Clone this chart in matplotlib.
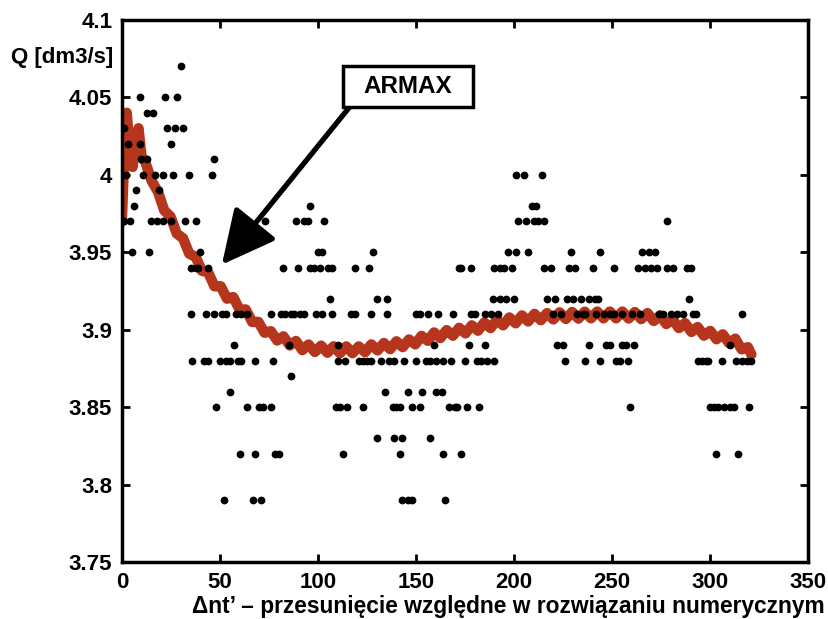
import matplotlib

matplotlib.use("Agg")
import matplotlib.pyplot as plt
from matplotlib.patches import Rectangle

plt.rcParams["font.family"] = ["Liberation Sans", "DejaVu Sans"]
plt.rcParams["font.weight"] = "bold"

# measured flow, one list of shifts for each quantised level
levels = [4.07, 4.05, 4.04, 4.03, 4.02, 4.01, 4.00, 3.99, 3.98, 3.97, 3.95, 3.94,
          3.92, 3.91, 3.89, 3.88, 3.87, 3.86, 3.85, 3.83, 3.82, 3.79]
shifts_at_level = [
    [30],
    [9, 22, 28],
    [13, 16],
    [1, 23, 27, 31],
    [3, 9, 25],
    [10, 13, 47],
    [2, 11, 17, 21, 26, 34, 46, 201, 205, 214],
    [7, 19],
    [6, 96, 209, 211],
    [1, 4, 15, 18, 21, 25, 32, 38, 73, 89, 93, 95, 103, 202, 206, 210, 212, 215, 278],
    [5, 14, 40, 100, 102, 128, 197, 201, 207, 229, 244, 265, 269, 272],
    [35, 38, 39, 44, 82, 90, 96, 98, 101, 105, 107, 119, 126, 172, 173, 178, 190,
     193, 195, 199, 215, 219, 228, 231, 240, 251, 263, 267, 270, 273, 278, 281, 288, 290],
    [106, 130, 135, 189, 193, 196, 200, 217, 221, 227, 230, 234, 238, 241, 243, 289],
    [35, 43, 47, 51, 53, 58, 61, 64, 76, 81, 83, 86, 88, 91, 93, 99, 102, 107, 117,
     119, 127, 135, 150, 152, 156, 161, 169, 178, 180, 185, 188, 192, 220, 224, 232,
     235, 236, 242, 246, 249, 251, 255, 260, 264, 274, 276, 280, 283, 286, 291, 293, 316],
    [57, 85, 110, 159, 177, 185, 222, 225, 238, 247, 249, 255, 257, 261, 310],
    [36, 42, 44, 50, 53, 55, 59, 61, 68, 77, 110, 114, 121, 123, 125, 127, 132, 136,
     139, 144, 150, 155, 157, 160, 164, 168, 175, 181, 183, 186, 190, 226, 236, 244,
     252, 254, 258, 294, 296, 298, 299, 306, 313, 316, 319, 321],
    [86],
    [55, 134, 146, 153, 160, 163],
    [48, 64, 70, 72, 76, 109, 111, 115, 123, 138, 140, 142, 148, 152, 167, 170, 171,
     176, 182, 259, 300, 302, 304, 307, 310, 312, 320],
    [130, 139, 143, 157],
    [60, 68, 78, 80, 113, 142, 164, 173, 303, 314],
    [52, 67, 71, 143, 146, 148, 165],
]

# ARMAX model output
armax_x = [0, 1, 2.5, 4, 5.5, 7, 8.5, 10, 12.0, 15.2, 18.4, 21.6, 24.8, 28.0, 31.2,
           34.4, 37.6, 40.8, 44.0, 47.2, 50.4, 53.6, 56.8, 60.0, 63.2, 66.4, 69.6,
           72.8, 76.0, 79.2, 82.4, 85.6, 88.8, 92.0, 95.2, 98.4, 101.6, 104.8, 108.0,
           111.2, 114.4, 117.6, 120.8, 124.0, 127.2, 130.4, 133.6, 136.8, 140.0, 143.2,
           146.4, 149.6, 152.8, 156.0, 159.2, 162.4, 165.6, 168.8, 172.0, 175.2, 178.4,
           181.6, 184.8, 188.0, 191.2, 194.4, 197.6, 200.8, 204.0, 207.2, 210.4, 213.6,
           216.8, 220.0, 223.2, 226.4, 229.6, 232.8, 236.0, 239.2, 242.4, 245.6, 248.8,
           252.0, 255.2, 258.4, 261.6, 264.8, 268.0, 271.2, 274.4, 277.6, 280.8, 284.0,
           287.2, 290.4, 293.6, 296.8, 300.0, 303.2, 306.4, 309.6, 312.8, 316.0, 319.2,
           321.0]
armax_q = [3.970, 4.005, 4.040, 4.015, 4.005, 4.022, 4.030, 4.012, 4.008, 3.996, 3.989,
           3.977, 3.973, 3.962, 3.959, 3.949, 3.947, 3.938, 3.937, 3.928, 3.928, 3.920,
           3.921, 3.913, 3.913, 3.905, 3.905, 3.898, 3.899, 3.893, 3.8957, 3.8898,
           3.8927, 3.8868, 3.8904, 3.8856, 3.8897, 3.8851, 3.8893, 3.8848, 3.8892,
           3.8848, 3.8892, 3.8855, 3.8905, 3.8866, 3.8914, 3.8874, 3.8925, 3.8887,
           3.8937, 3.8905, 3.8960, 3.8928, 3.8982, 3.8946, 3.8997, 3.8961, 3.9012,
           3.8976, 3.9028, 3.8993, 3.9046, 3.9010, 3.9063, 3.9028, 3.9079, 3.9041,
           3.9092, 3.9053, 3.9102, 3.9061, 3.9107, 3.9066, 3.9112, 3.9069, 3.9114,
           3.9071, 3.9116, 3.9073, 3.9117, 3.9073, 3.9117, 3.9073, 3.9117, 3.9072,
           3.9114, 3.9068, 3.9107, 3.9056, 3.9092, 3.9036, 3.9067, 3.9010, 3.9042,
           3.8985, 3.9017, 3.8961, 3.8992, 3.8938, 3.8970, 3.8913, 3.8942, 3.8873,
           3.8887, 3.8840]

x_ticks = [0, 50, 100, 150, 200, 250, 300, 350]
y_ticks = [3.75, 3.8, 3.85, 3.9, 3.95, 4.0, 4.05, 4.1]
y_tick_labels = ["3.75", "3.8", "3.85", "3.9", "3.95", "4", "4.05", "4.1"]

meas_x = []
meas_q = []
for level, xs in zip(levels, shifts_at_level):
    meas_x.extend(xs)
    meas_q.extend([level] * len(xs))

fig = plt.figure(figsize=(8.29, 6.19), dpi=100)
ax = fig.add_axes([0.147, 0.092, 0.828, 0.876])

ax.plot(armax_x, armax_q, color="#b5361d", linewidth=7.5, solid_joinstyle="round",
        solid_capstyle="round", zorder=2)
ax.plot(meas_x, meas_q, "o", color="black", markersize=5.6, markeredgewidth=0, zorder=3)

ax.set_xlim(0, 350)
ax.set_ylim(3.75, 4.1)
ax.set_xticks(x_ticks)
ax.set_yticks(y_ticks)
ax.set_yticklabels(y_tick_labels)
ax.tick_params(direction="in", length=6, width=2, labelsize=16, top=True, right=True,
               pad=7)
for spine in ax.spines.values():
    spine.set_linewidth(2.5)

fig.text(113 / 829, 1 - 57 / 619, "Q [dm3/s]", ha="right", va="center", fontsize=16,
         fontweight="bold")
fig.text(825 / 829, 1 - 606 / 619,
         "\u0394nt\u2019 \u2013 przesuni\u0119cie wzgl\u0119dne w rozwi\u0105zaniu numerycznym",
         ha="right", va="center", fontsize=16.4, fontweight="bold")

# label box and arrow pointing at the model curve
ax.add_patch(Rectangle((112.8, 4.0437), 66.3, 0.0265, facecolor="white",
                       edgecolor="black", linewidth=2.5, zorder=4))
ax.text(146, 4.057, "ARMAX", ha="center", va="center", fontsize=17.5, fontweight="bold",
        zorder=5)
ax.annotate("", xy=(51, 3.942), xytext=(116.3, 4.044),
            arrowprops=dict(arrowstyle="-|>,head_length=1.1,head_width=0.55",
                            color="black", lw=3.8, mutation_scale=30,
                            shrinkA=0, shrinkB=0))

fig.savefig("out.png", dpi=100)
